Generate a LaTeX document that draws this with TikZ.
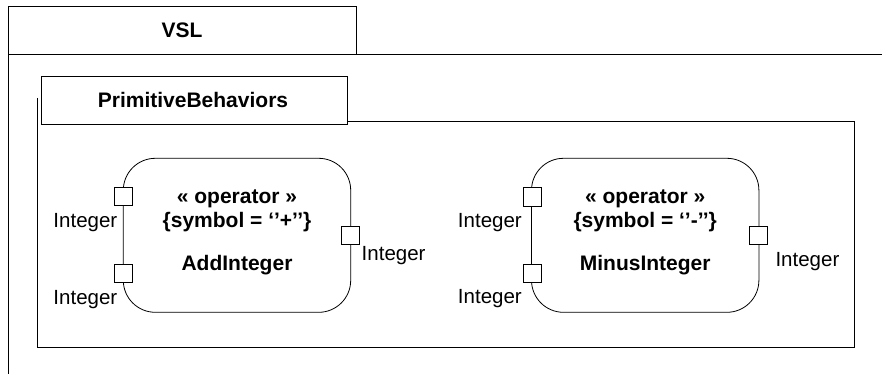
\documentclass[tikz,border=0pt]{standalone}
\usepackage{fontspec}
\setmainfont{Liberation Sans}
\begin{document}
\begin{tikzpicture}[x=1pt,y=-1pt,
  frameline/.style={draw=black,line width=1pt},
  tabbox/.style={draw=black,line width=1pt,fill=white},
  comp/.style={draw=black,line width=0.8pt,rounded corners=32pt,minimum width=227.4pt,minimum height=154pt,inner sep=0pt},
  portbox/.style={draw=black,line width=0.8pt,fill=white,minimum size=18.5pt,inner sep=0pt},
  lbl/.style={inner sep=0pt,font=\fontsize{20.5}{24}\selectfont},
  ttl/.style={inner sep=0pt,font=\fontsize{21}{24}\selectfont\bfseries},
]
\useasboundingbox (0,0) rectangle (882,374);
% outer package VSL
\draw[frameline] (8,55) -- (8,374);
\draw[frameline] (356,55) -- (882,55);
\draw[tabbox] (8,7) rectangle (356,55);
\node[ttl,anchor=base] (vsl) at (182,37.5) {VSL};
% inner package PrimitiveBehaviors
\draw[frameline] (37,98) -- (37,347) -- (854,347) -- (854,122) -- (347,122);
\draw[tabbox] (41,77) rectangle (347,125);
\node[ttl,anchor=base] (pb) at (193,107.3) {PrimitiveBehaviors};
% AddInteger
\node[comp] (add) at (237,235.3) {};
\node[ttl,anchor=base] (addst) at (237,203.5) {« operator »};
\node[ttl,anchor=base] (addsym) at (237,227.3) {\{symbol = ‘’+’’\}};
\node[ttl,anchor=base] (addname) at (237,270.7) {AddInteger};
\node[portbox] (addp1) at (123.4,196.5) {};
\node[portbox] (addp2) at (123.4,273.5) {};
\node[portbox] (addp3) at (350.3,235.3) {};
\node[lbl,anchor=base east] (addl1) at (117.5,227.3) {Integer};
\node[lbl,anchor=base east] (addl2) at (117.5,304) {Integer};
\node[lbl,anchor=base west] (addl3) at (361.5,260.7) {Integer};
% MinusInteger
\node[comp] (minus) at (645.2,235.3) {};
\node[ttl,anchor=base] (minst) at (645.2,203.5) {« operator »};
\node[ttl,anchor=base] (minsym) at (645.2,227.3) {\{symbol = ‘’-’’\}};
\node[ttl,anchor=base] (minname) at (645.2,270.7) {MinusInteger};
\node[portbox] (minp1) at (532.2,196.7) {};
\node[portbox] (minp2) at (532.2,273.5) {};
\node[portbox] (minp3) at (758.5,235.5) {};
\node[lbl,anchor=base east] (minl1) at (522,227.3) {Integer};
\node[lbl,anchor=base east] (minl2) at (522,303.5) {Integer};
\node[lbl,anchor=base west] (minl3) at (775.3,266) {Integer};
\end{tikzpicture}
\end{document}
